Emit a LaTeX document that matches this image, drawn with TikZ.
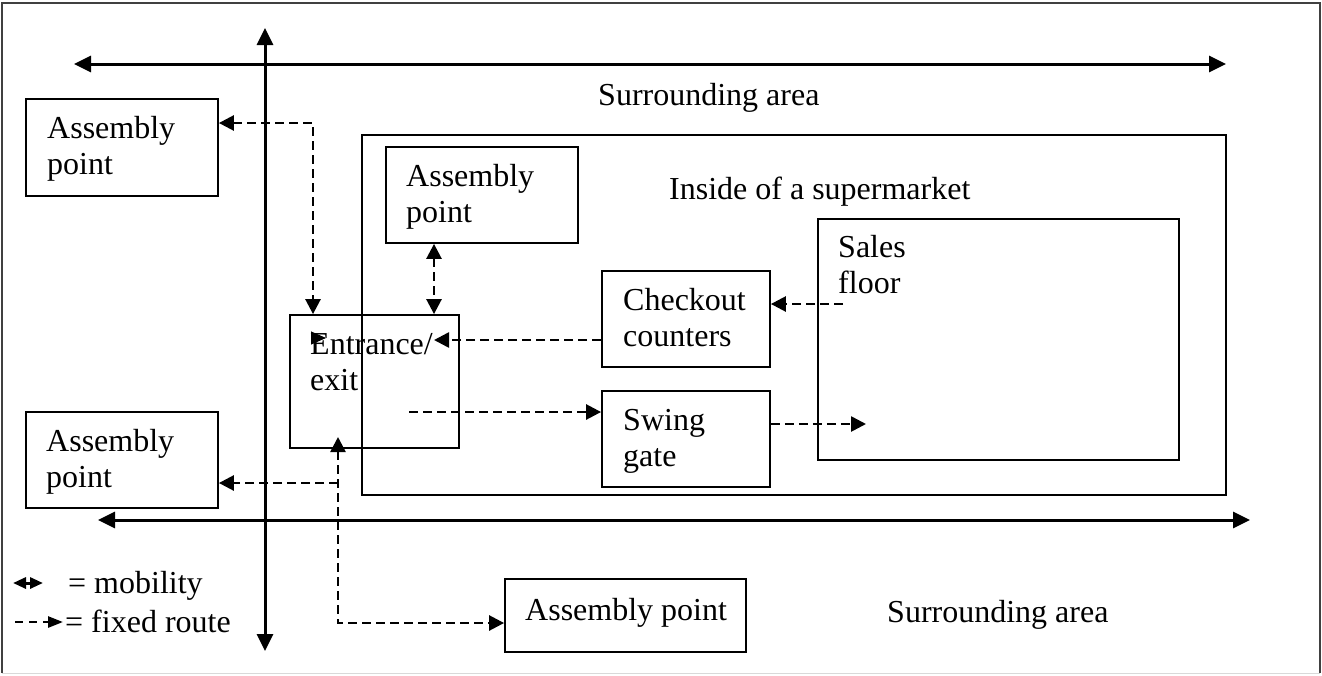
\documentclass[tikz,border=0pt]{standalone}
\usepackage{fontspec}
\setmainfont{Liberation Serif}
\usetikzlibrary{arrows.meta,fit}
\begin{document}
\begin{tikzpicture}[x=1pt,y=-1pt,
  lbl/.style={anchor=base west, inner sep=0pt, font=\fontsize{32}{36}\selectfont},
  boxnode/.style={draw, line width=1.8pt, inner sep=0pt},
  mob/.style={line width=3pt, {Triangle[length=17pt,width=16pt]}-{Triangle[length=17pt,width=16pt]}},
  fixed/.style={line width=2.6pt, dash pattern=on 9pt off 5pt},
  fa/.style={fixed, -{Triangle[length=15pt,width=15pt]}},
  fb/.style={fixed, {Triangle[length=15pt,width=15pt]}-{Triangle[length=15pt,width=15pt]}}
]
\useasboundingbox (0,0) rectangle (1322,675);
% outer frame
\draw[line width=1.8pt, black!75] (2,673) -- (2,3) -- (1320,3) -- (1320,673);
\draw[line width=1pt, black!15] (2,673) -- (1320,673);

% boxes
\node[boxnode, fit={(362,135)(1226,495)}] (sm) {};
\node[boxnode, fit={(26,99)(218,196)}] (ap1) {};
\node[boxnode, fit={(386,147)(578,243)}] (ap2) {};
\node[boxnode, fit={(290,315)(459,448)}] (ent) {};
\node[boxnode, fit={(602,271)(770,367)}] (co) {};
\node[boxnode, fit={(602,391)(770,487)}] (sg) {};
\node[boxnode, fit={(818,219)(1179,460)}] (sf) {};
\node[boxnode, fit={(26,412)(218,508)}] (ap3) {};
\node[boxnode, fit={(505,579)(746,652)}] (ap4) {};

% labels
\node[lbl] (sur1) at (598,105) {Surrounding area};
\node[lbl] (sur2) at (887,622) {Surrounding area};
\node[lbl] (ins) at (669,199) {Inside of a supermarket};
\node[lbl] (ap1a) at (47,138) {Assembly};
\node[lbl] (ap1b) at (47,174) {point};
\node[lbl] (ap2a) at (406,186) {Assembly};
\node[lbl] (ap2b) at (406,222) {point};
\node[lbl] (enta) at (310,354) {Entrance/};
\node[lbl] (entb) at (310,390) {exit};
\node[lbl] (coa) at (623,310) {Checkout};
\node[lbl] (cob) at (623,346) {counters};
\node[lbl] (sga) at (623,430) {Swing};
\node[lbl] (sgb) at (623,466) {gate};
\node[lbl] (sfa) at (838,257) {Sales};
\node[lbl] (sfb) at (838,293) {floor};
\node[lbl] (ap3a) at (46,451) {Assembly};
\node[lbl] (ap3b) at (46,487) {point};
\node[lbl] (ap4a) at (525,620) {Assembly point};

% mobility arrows
\coordinate (tl) at (74,64);   \coordinate (tr) at (1226,64);
\coordinate (vt) at (265,28);  \coordinate (vb) at (265,651);
\coordinate (bl) at (98,520);  \coordinate (br) at (1250,520);
\draw[mob] (tl) -- (tr);
\draw[mob] (vt) -- (vb);
\draw[mob] (bl) -- (br);

% fixed routes
\coordinate (r1) at (313,123);
\draw[fb] (ap1.east |- r1) -- (r1) -- (r1 |- ent.north);
\coordinate (c2) at (434,280);
\draw[fb] (c2 |- ap2.south) -- (c2 |- ent.north);
\coordinate (e1) at (434,340);
\draw[fa] (co.west |- e1) -- (e1);
\coordinate (s1) at (843,304);
\draw[fa] (s1) -- (co.east |- s1);
\coordinate (e2) at (409,412);
\draw[fa] (e2) -- (sg.west |- e2);
\coordinate (s2) at (866,424);
\draw[fa] (sg.east |- s2) -- (s2);
\coordinate (e3) at (338,437);
\coordinate (r2) at (338,623);
\draw[fb] (e3) -- (r2) -- (ap4.west |- r2);
\coordinate (r3) at (338,483);
\draw[fa] (r3) -- (ap3.east |- r3);
% stray arrowhead
\coordinate (x0) at (311,338); \coordinate (x1) at (326,338);
\draw[line width=1pt, -{Triangle[length=15pt,width=13pt]}] (x0) -- (x1);

% legend
\coordinate (la) at (13,583); \coordinate (lb) at (43,583);
\draw[line width=3pt, {Triangle[length=13pt,width=11pt]}-{Triangle[length=13pt,width=11pt]}] (la) -- (lb);
\node[lbl] (lega) at (68,593) {= mobility};
\coordinate (lc) at (15,622); \coordinate (ld) at (63,622);
\draw[line width=2.6pt, dash pattern=on 8pt off 6pt, -{Triangle[length=15pt,width=11pt]}] (lc) -- (ld);
\node[lbl] (legb) at (65,632) {= fixed route};
\end{tikzpicture}
\end{document}
